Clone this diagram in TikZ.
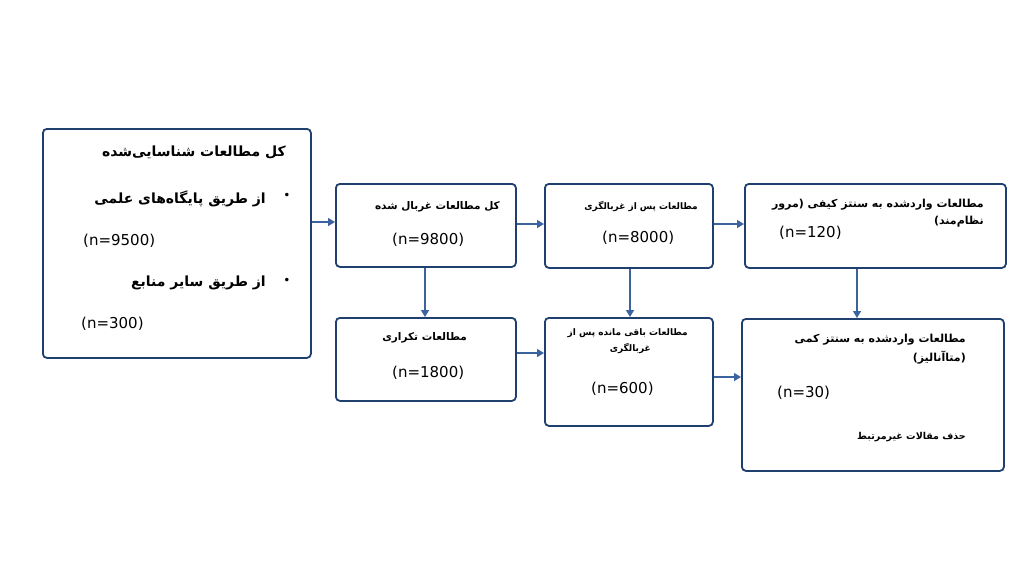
\documentclass[tikz,border=0pt]{standalone}
\usepackage{fontspec}
\setmainfont{DejaVu Sans}
\newfontfamily\arabicfont[Script=Arabic]{DejaVu Sans}
\TeXXeTstate=1
\usetikzlibrary{arrows.meta}
\definecolor{bordc}{HTML}{1F3F6F}
\definecolor{arrc}{HTML}{3A63A0}
\tikzset{
 box/.style={draw=bordc,line width=1.8pt,rounded corners=4pt,fill=white,anchor=north west,inner sep=0pt},
 conn/.style={draw=arrc,line width=1.4pt,-{Triangle[length=7pt,width=8pt]}},
 fa/.style={anchor=east,font=\arabicfont\bfseries\fontsize{#1}{#1}\selectfont,inner sep=0pt},
 num/.style={anchor=west,font=\fontsize{15}{15}\selectfont,inner sep=0pt}
}
\newcommand{\fa}[1]{\beginR #1\endR}
\begin{document}
\begin{tikzpicture}[x=1pt,y=-1pt]
\useasboundingbox (0,0) rectangle (1024,576);
\node[box,minimum width=268pt,minimum height=229pt] (a) at (42,128) {};
\node[box,minimum width=180pt,minimum height=83pt] (b) at (335,183) {};
\node[box,minimum width=168pt,minimum height=84pt] (c) at (544,183) {};
\node[box,minimum width=261pt,minimum height=84pt] (d) at (744,183) {};
\node[box,minimum width=180pt,minimum height=83pt] (e) at (335,317) {};
\node[box,minimum width=168pt,minimum height=108pt] (f) at (544,317) {};
\node[box,minimum width=262pt,minimum height=152pt] (g) at (741,318) {};
% texts
\node[fa=14] (t1) at (286,152) {\fa{کل مطالعات شناسایی‌شده}};
\node[fa=14] (t2) at (266,199) {\fa{از طریق پایگاه‌های علمی}};
\node[anchor=center,font=\fontsize{12}{12}\selectfont] (b1) at (287,196) {•};
\node[num] (n1) at (83,241) {(n=9500)};
\node[fa=14] (t3) at (266,283) {\fa{از طریق سایر منابع}};
\node[anchor=center,font=\fontsize{12}{12}\selectfont] (b2) at (287,281) {•};
\node[num] (n2) at (81,324) {(n=300)};
\node[fa=10.5] (t4) at (500,207) {\fa{کل مطالعات غربال شده}};
\node[num] (n3) at (392,240) {(n=9800)};
\node[fa=9] (t5) at (698,206) {\fa{مطالعات پس از غربالگری}};
\node[num] (n4) at (602,238) {(n=8000)};
\node[fa=11] (t6) at (984,205) {\fa{مطالعات واردشده به سنتز کیفی (مرور}};
\node[fa=11] (t6b) at (984,222) {\fa{نظام‌مند)}};
\node[num] (n5) at (779,233) {(n=120)};
\node[fa=10.5] (t7) at (467,338) {\fa{مطالعات تکراری}};
\node[num] (n6) at (392,373) {(n=1800)};
\node[fa=9] (t8) at (688,333) {\fa{مطالعات باقی مانده پس از}};
\node[fa=9] (t8b) at (651,348) {\fa{غربالگری}};
\node[num] (n7) at (591,389) {(n=600)};
\node[fa=11] (t9) at (966,340) {\fa{مطالعات واردشده به سنتز کمی}};
\node[fa=11] (t9b) at (966,358) {\fa{(متاآنالیز)}};
\node[num] (n8) at (777,393) {(n=30)};
\node[fa=9.5] (t10) at (966,437) {\fa{حذف مقالات غیرمرتبط}};
% connectors
\draw[conn] (a.east |- 0,222) -- (b.west |- 0,222);
\draw[conn] (b.east |- 0,224) -- (c.west |- 0,224);
\draw[conn] (c.east |- 0,224) -- (d.west |- 0,224);
\draw[conn] (b.south -| 425,0) -- (e.north -| 425,0);
\draw[conn] (c.south -| 630,0) -- (f.north -| 630,0);
\draw[conn] (d.south -| 857,0) -- (g.north -| 857,0);
\draw[conn] (e.east |- 0,353) -- (f.west |- 0,353);
\draw[conn] (f.east |- 0,377) -- (g.west |- 0,377);
\end{tikzpicture}
\end{document}
